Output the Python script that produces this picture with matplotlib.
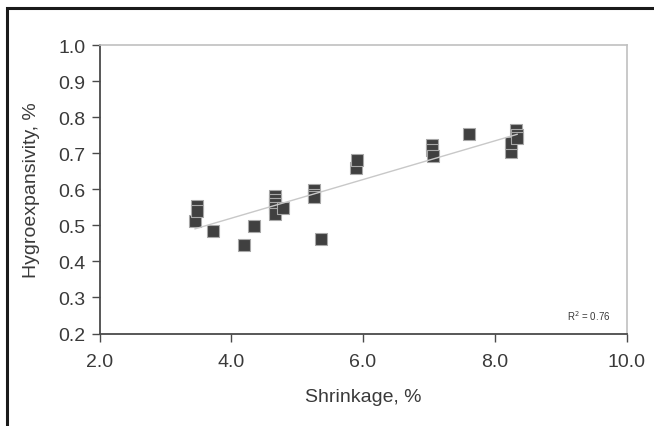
import numpy as np
import matplotlib.pyplot as plt
from matplotlib.patches import Rectangle

plt.rcParams['font.family'] = ['Liberation Sans', 'DejaVu Sans']

# shrinkage (%) vs hygroexpansivity (%) per specimen
shrinkage = [3.45, 3.48, 3.48, 3.73, 4.20, 4.34, 4.66, 4.66, 4.67, 4.66, 4.66, 4.79,
             5.25, 5.25, 5.26, 5.37, 5.90, 5.91, 7.05, 7.05, 7.06, 7.61,
             8.25, 8.25, 8.33, 8.34, 8.34]
hygro = [0.511, 0.553, 0.540, 0.485, 0.446, 0.497, 0.582, 0.570, 0.560, 0.547, 0.530, 0.549,
         0.597, 0.585, 0.578, 0.463, 0.660, 0.682, 0.723, 0.708, 0.693, 0.752,
         0.703, 0.728, 0.763, 0.750, 0.742]
r2_label = 'R$^2$ = 0.76'

x = np.array(shrinkage)
y = np.array(hygro)
slope, icept = np.polyfit(x, y, 1)

fig = plt.figure(figsize=(6.54, 4.27), dpi=100)
fig.patches.append(Rectangle((6.5 / 654, -0.1), 1.2, 1 - 8.5 / 427 + 0.1,
                             transform=fig.transFigure, fill=False,
                             edgecolor='#1a1a1a', linewidth=2.2))

ax = fig.add_axes([99.5 / 654, 1 - 334.5 / 427, 527 / 654, 288.5 / 427])
ax.scatter(x, y, marker='s', s=72, color='#404040', edgecolors='#a8a8a8',
           linewidths=0.8, zorder=2)

xs = np.array([x.min(), x.max()])
ax.plot(xs, slope * xs + icept, color='#c8c8c8', linewidth=1.0, zorder=3)

ax.set_xlim(2, 10)
ax.set_ylim(0.2, 1.0)
ax.set_xticks(np.arange(2, 10.1, 2))
ax.set_yticks(np.arange(0.2, 1.01, 0.1))
ax.xaxis.set_major_formatter(plt.FormatStrFormatter('%.1f'))
ax.yaxis.set_major_formatter(plt.FormatStrFormatter('%.1f'))

for side in ['left', 'bottom']:
    ax.spines[side].set_color('#4a4a4a')
    ax.spines[side].set_linewidth(1.3)
for side in ['top', 'right']:
    ax.spines[side].set_color('#c0c0c0')
    ax.spines[side].set_linewidth(1.2)

ax.tick_params(direction='out', length=6, width=1.0, color='#4a4a4a',
               labelsize=14, labelcolor='#3a3a3a')
ax.tick_params(axis='x', pad=8)
ax.tick_params(axis='y', pad=4)

ax.set_xlabel('Shrinkage, %', fontsize=14, color='#3a3a3a', labelpad=13)
ax.set_ylabel('Hygroexpansivity, %', fontsize=14, color='#3a3a3a', labelpad=13)

ax.text(0.97, 0.065, r2_label, transform=ax.transAxes,
        fontsize=7, color='#3a3a3a', ha='right', va='center')

fig.savefig('out.png', dpi=100)
